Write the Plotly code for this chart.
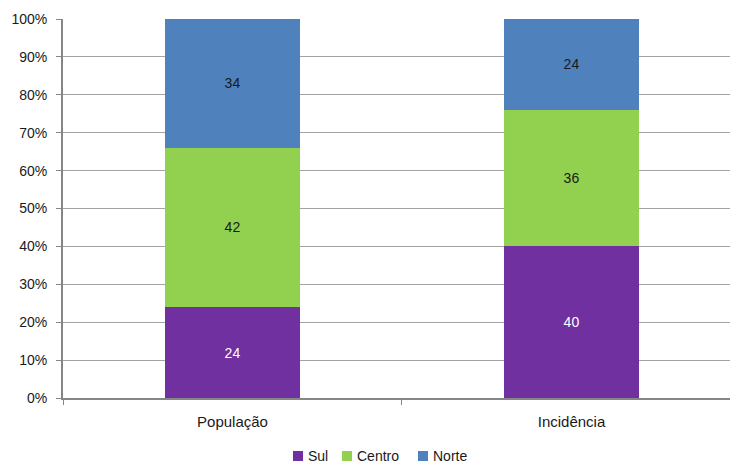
import plotly.graph_objects as go

categories = ["População", "Incidência"]
sul = [24, 40]
centro = [42, 36]
norte = [34, 24]
y_ticks = [0, 10, 20, 30, 40, 50, 60, 70, 80, 90, 100]
y_tick_labels = [f"{v}%" for v in y_ticks]

FONT = "Liberation Sans"
AXIS = "#868686"
GRID = "#A3A3A3"
TXT = "#1A1A1A"

W, H = 730, 463
M_L, M_R, M_T, M_B = 63, 0, 19, 65

series = [
    ("Sul", sul, "#7030A0", "#FFFFFF"),
    ("Centro", centro, "#92D050", TXT),
    ("Norte", norte, "#4F81BD", TXT),
]

fig = go.Figure()
for name, vals, color, txtcolor in series:
    fig.add_trace(go.Bar(
        name=name,
        x=categories,
        y=vals,
        width=0.4,
        marker=dict(color=color, line=dict(width=0)),
        text=[str(v) for v in vals],
        textposition="inside",
        insidetextanchor="middle",
        textangle=0,
        constraintext="none",
        textfont=dict(family=FONT, size=14, color=txtcolor),
        hoverinfo="skip",
        showlegend=False,
    ))

# Bottom legend: small coloured squares followed by the series names
plot_w = W - M_L - M_R
plot_h = H - M_T - M_B


def px_x(px):
    return (px - M_L) / plot_w


def px_y(py):
    return (H - M_B - py) / plot_h


legend_left = [293, 342, 418]
sq = 10
legend_mid = 456
shapes = []
annotations = []
for (name, _, color, _), left in zip(series, legend_left):
    shapes.append(dict(
        type="rect", xref="paper", yref="paper",
        x0=px_x(left), x1=px_x(left + sq),
        y0=px_y(legend_mid + sq / 2), y1=px_y(legend_mid - sq / 2),
        fillcolor=color, line=dict(width=0),
    ))
    annotations.append(dict(
        xref="paper", yref="paper",
        x=px_x(left + sq + 3), y=px_y(legend_mid),
        xanchor="left", yanchor="middle",
        text=name, showarrow=False,
        font=dict(family=FONT, size=14, color=TXT),
    ))

fig.update_layout(
    barmode="stack",
    width=W,
    height=H,
    margin=dict(l=M_L, r=M_R, t=M_T, b=M_B, autoexpand=False),
    paper_bgcolor="white",
    plot_bgcolor="white",
    font=dict(family=FONT, size=14, color=TXT),
    showlegend=False,
    shapes=shapes,
    annotations=annotations,
)

fig.update_xaxes(
    range=[-0.5, 1.4676],
    showline=True,
    linecolor=AXIS,
    linewidth=2,
    ticks="outside",
    tickson="boundaries",
    ticklen=5,
    tickcolor=AXIS,
    showgrid=False,
    ticklabelstandoff=9,
    tickfont=dict(family=FONT, size=15, color=TXT),
)

fig.update_yaxes(
    range=[0, 100],
    tickvals=y_ticks,
    ticktext=y_tick_labels,
    showline=True,
    linecolor=AXIS,
    linewidth=2,
    ticks="outside",
    ticklen=5,
    tickcolor=AXIS,
    showgrid=True,
    gridcolor=GRID,
    gridwidth=1,
    zeroline=False,
    ticklabelstandoff=6,
    tickfont=dict(family=FONT, size=14, color=TXT),
)

fig.write_html("out.html")
